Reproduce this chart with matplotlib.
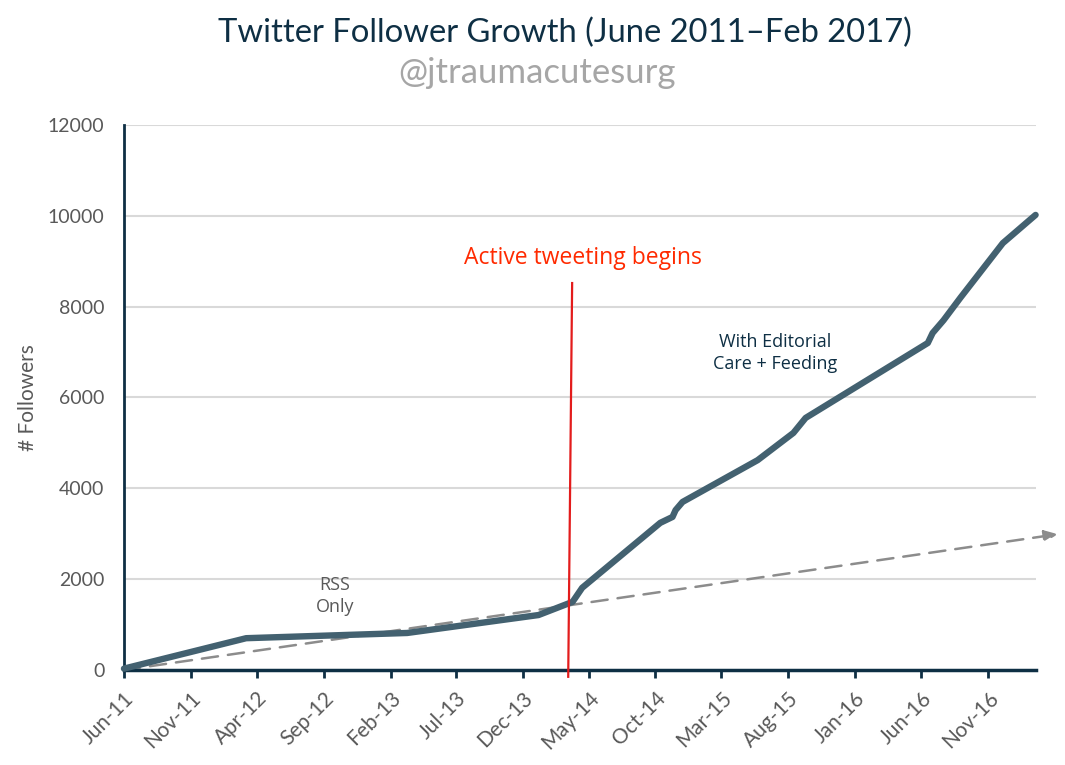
import matplotlib
matplotlib.use("Agg")
import matplotlib.pyplot as plt
import matplotlib.dates as mdates
import numpy as np
from datetime import datetime

# ---- data ----
dates = ["2011-06-01", "2012-03-07", "2013-03-11", "2014-01-06", "2014-03-25",
         "2014-04-16", "2014-10-12", "2014-11-09", "2014-11-16", "2014-12-02",
         "2015-05-23", "2015-08-13", "2015-09-10", "2016-06-16", "2016-06-27",
         "2016-07-22", "2016-08-30", "2016-12-05", "2017-02-18"]
followers = [30, 700, 815, 1210, 1500, 1810, 3240, 3370, 3520, 3700,
             4620, 5220, 5550, 7200, 7420, 7700, 8200, 9400, 10020]

trend_dates = ["2011-06-01", "2017-04-10"]
trend_values = [0, 2990]

marker_dates = ["2014-03-15", "2014-03-24"]
marker_values = [-150, 8520]

tick_labels = ["Jun-11", "Nov-11", "Apr-12", "Sep-12", "Feb-13", "Jul-13", "Dec-13",
               "May-14", "Oct-14", "Mar-15", "Aug-15", "Jan-16", "Jun-16", "Nov-16"]
y_ticks = [0, 2000, 4000, 6000, 8000, 10000, 12000]

title = "Twitter Follower Growth (June 2011\u2013Feb 2017)"
subtitle = "@jtraumacutesurg"

# ---- plot ----
plt.rcParams['font.family'] = ['Lato', 'DejaVu Sans']
navy = "#0e2f44"
grey_txt = "#595959"

fig = plt.figure(figsize=(10.65, 7.65), dpi=100)
ax = fig.add_axes([0.1164, 0.1242, 0.9728 - 0.1164, 0.8366 - 0.1242])

x = [datetime.strptime(d, "%Y-%m-%d") for d in dates]
tx = [datetime.strptime(d, "%Y-%m-%d") for d in trend_dates]
mx = [datetime.strptime(d, "%Y-%m-%d") for d in marker_dates]
tick_pos = [datetime.strptime(t, "%b-%y") for t in tick_labels]

ax.set_xlim(datetime(2011, 6, 1), datetime(2017, 2, 19))
ax.set_ylim(0, 12000)

for v in y_ticks[1:]:
    ax.axhline(v, color="#d9d9d9", lw=1.5, zorder=0)

# trend dashed arrow
ax.annotate("", xy=(tx[1], trend_values[1]), xytext=(tx[0], trend_values[0]),
            xycoords='data', textcoords='data', annotation_clip=False,
            arrowprops=dict(arrowstyle="-|>,head_length=0.8,head_width=0.35",
                            color="#8c8c8c", lw=1.8, linestyle=(0, (6.5, 4)),
                            shrinkA=0, shrinkB=0), zorder=2)

ax.plot(x, followers, color="#436170", lw=4.6, solid_joinstyle='round',
        solid_capstyle='round', zorder=3, clip_on=False)

ax.plot(mx, marker_values, color="#e31c1c", lw=1.6, zorder=4, clip_on=False)

ax.text(datetime(2014, 4, 18), 9080, "Active tweeting begins", color="#ff2a00",
        fontsize=16.5, ha="center", va="center", family=["Open Sans", "DejaVu Sans"])
ax.text(datetime(2015, 7, 1), 6980, "With Editorial\nCare + Feeding", color=navy,
        fontsize=13, ha="center", va="center", linespacing=1.25,
        family=["Open Sans", "DejaVu Sans"])
ax.text(datetime(2012, 9, 27), 1630, "RSS\nOnly", color=grey_txt,
        fontsize=13, ha="center", va="center", linespacing=1.25,
        family=["Open Sans", "DejaVu Sans"])

ax.set_yticks(y_ticks)
ax.set_yticklabels([str(v) for v in y_ticks], fontsize=14, color=grey_txt)
ax.tick_params(axis='y', length=0, pad=14)
ax.set_xticks(tick_pos)
ax.set_xticklabels(tick_labels, rotation=45, ha='right', rotation_mode='anchor',
                   fontsize=15, color=grey_txt)
ax.tick_params(axis='x', length=6, width=2, color=navy, pad=7)

for s in ["top", "right"]:
    ax.spines[s].set_visible(False)
ax.spines["left"].set_color(navy)
ax.spines["left"].set_linewidth(2)
ax.spines["bottom"].set_color(navy)
ax.spines["bottom"].set_linewidth(2.5)

ax.set_ylabel("# Followers", fontsize=15, color=grey_txt)
ax.yaxis.set_label_coords(-0.094, 0.5)

fig.text(0.5305, 0.957, title, ha="center", va="center", fontsize=23.6, color=navy)
fig.text(0.504, 0.905, subtitle, ha="center", va="center", fontsize=25, color="#a6a6a6")

fig.savefig("out.png", dpi=100)
